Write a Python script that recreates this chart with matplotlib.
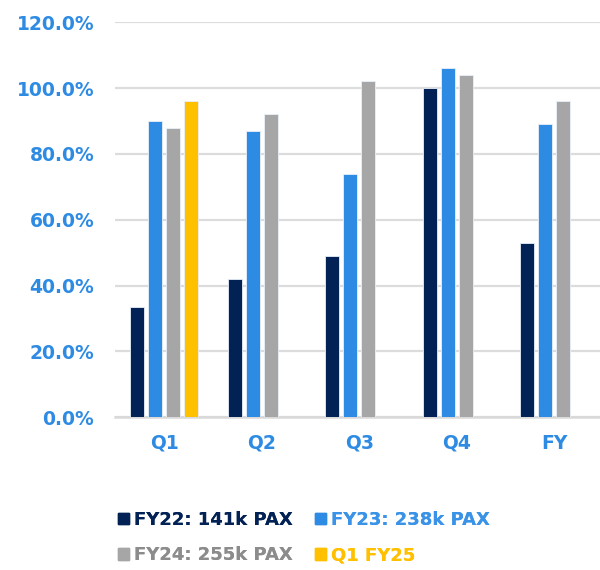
import numpy as np
import matplotlib
matplotlib.use('Agg')
import matplotlib.pyplot as plt
from matplotlib.patches import Patch

# data
categories = ['Q1', 'Q2', 'Q3', 'Q4', 'FY']
fy22 = [33.5, 42, 49, 100, 53]
fy23 = [90, 87, 74, 106, 89]
fy24 = [88, 92, 102, 104, 96]
q1fy25 = [96, np.nan, np.nan, np.nan, np.nan]
series_labels = ['FY22: 141k PAX', 'FY23: 238k PAX', 'FY24: 255k PAX', 'Q1 FY25']
yticks = [0, 20, 40, 60, 80, 100, 120]

colors = ['#022255', '#2E8BE3', '#A6A6A6', '#FFC000']
text_colors = ['#022255', '#3A93E6', '#8C8C8C', '#FFC000']
blue = '#2E8BE3'

plt.rcParams['font.family'] = ['DejaVu Sans']
plt.rcParams['font.weight'] = 'bold'

fig = plt.figure(figsize=(6, 5.7), dpi=100)
ax = fig.add_axes([0.192, 0.268, 0.808, 0.693])

x = np.arange(len(categories))
step = 0.185
width = 0.145
all_series = [fy22, fy23, fy24, q1fy25]
for i, vals in enumerate(all_series):
    ax.bar(x + (i - 1.5) * step, vals, width, color=colors[i],
           edgecolor='#E8F0FA', linewidth=0.6, zorder=3)

ax.set_ylim(0, 120)
ax.set_xlim(-0.503, 4.47)
ax.set_yticks(yticks)
ax.set_yticklabels(['%.1f%%' % v for v in yticks])
ax.set_xticks(x)
ax.set_xticklabels(categories)
ax.tick_params(axis='both', length=0, labelsize=13.5, labelcolor=blue)
ax.tick_params(axis='y', pad=15)
ax.tick_params(axis='x', pad=12)
for t in ax.get_xticklabels() + ax.get_yticklabels():
    t.set_fontweight('bold')

ax.grid(axis='y', color='#DCDCDC', linewidth=1.6, zorder=0)
for s in ['top', 'right', 'left']:
    ax.spines[s].set_visible(False)
ax.spines['bottom'].set_color('#D9D9D9')
ax.spines['bottom'].set_linewidth(1.8)

# legend in two rows, left aligned
handles = [Patch(color=c) for c in colors]
rows = [(0, 1), (2, 3)]
y_rows = [0.088, 0.026]
for (a, b), yr in zip(rows, y_rows):
    leg = fig.legend([handles[a], handles[b]], [series_labels[a], series_labels[b]],
                     loc='center left', bbox_to_anchor=(0.185, yr), ncol=2,
                     frameon=False, fontsize=13, handlelength=0.6, handleheight=0.6,
                     handletextpad=0.3, columnspacing=1.2, borderaxespad=0)
    for t, ci in zip(leg.get_texts(), [a, b]):
        t.set_color(text_colors[ci])
        t.set_fontweight('bold')
    fig.add_artist(leg)

fig.savefig('out.png', dpi=100)
